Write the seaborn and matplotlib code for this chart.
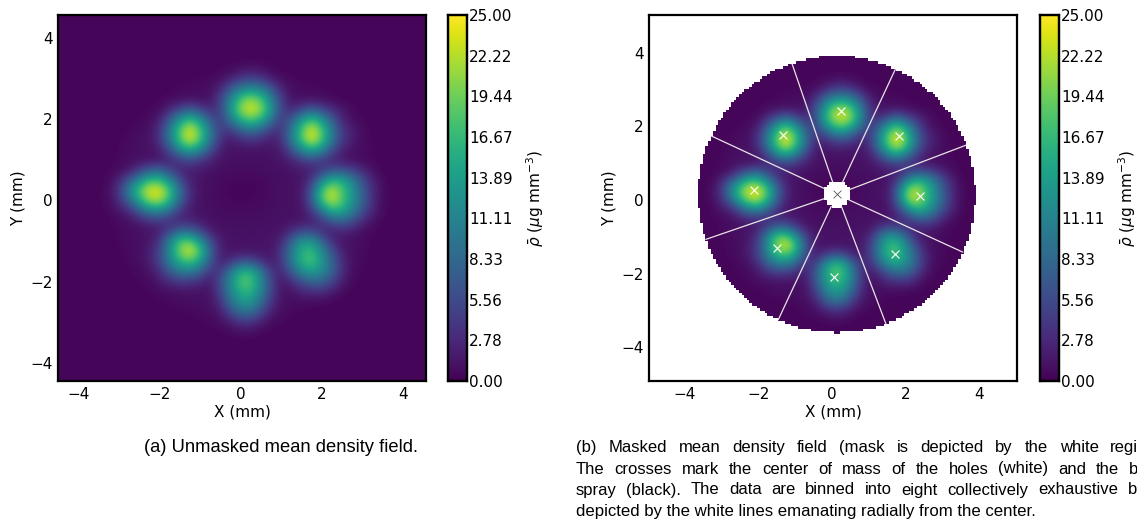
import numpy as np
import seaborn as sns
import matplotlib.pyplot as plt

# mean density, mm grid from -3.5 to 3.5 every 0.25, first row is y = +3.5
density_rows = [
    [.3] * 29,
    [.3] * 12 + [.4, .7, 1, 1.5, 1, .6] + [.3] * 11,
    [.3] * 9 + [.4, .5, .6, 1, 2, 4, 5, 4, 2, .8, .6, .4] + [.3] * 8,
    [.3] * 7 + [.4, .6, .7, .8, .9, 2.5, 7, 11, 12, 11, 7, 2.5, .9, .7, .7, .5] + [.3] * 6,
    [.3] * 6 + [.4, .7, .9, 1.1, 1, 1.2, 5, 11, 18, 21, 18, 11, 4.5, 1.2, 1, 1.1, .9, .6] + [.3] * 5,
    [.3] * 5 + [.5, .8, 2.5, 5, 7, 5, 2.5, 5, 13, 21, 24, 21, 13, 5, 2.5, 5, 7, 5, 3, 1.6, .6] + [.3] * 3,
    [.3] * 4 + [.5, .8, 2, 7, 13, 17, 13, 7, 4, 10, 16, 19, 16, 10, 4, 7, 13, 17, 13, 7, 2.5, .9, .5] + [.3] * 2,
    [.3] * 3 + [.5, .8, 1.1, 3.5, 10, 18, 24, 18, 10, 4.5, 4.5, 8, 10, 8, 4.5, 3.5, 10, 18, 24, 18, 10, 4, 2, .7, .4, .3],
    [.3, .3, .4, .7, 1, 1.2, 3.5, 10, 18, 24, 18, 10, 3.5, 1.6, 3, 3.5, 3, 1.6, 3.5, 10, 18, 24, 18, 10, 4, 2, .8, .4, .3],
    [.3, .3, .5, .8, 1.1, 1.2, 2, 6, 12, 15, 12, 6, 2, 1.2, 1.2, 1.2, 1.2, 1.3, 2, 6, 12, 15, 12, 6, 2.5, 1.2, .8, .5, .3],
    [.3, .3, .6, .9, 1.1, 1.1, 1.4, 2.5, 4, 5.5, 4, 2.5, 1.3, 1, 1, 1, 1, 1.1, 1.3, 2.5, 4, 5.5, 4, 2.5, 1.5, 1, .8, .5, .3],
    [.3, .4, .7, 1.5, 4, 7, 8, 5, 2.5, 2, 1.8, 1.1, .9, .8, .7, .8, .9, 1, 1.1, 1.2, 1.8, 2, 4, 6, 6, 4.5, 2.5, 1, .3],
    [.3, .6, 2.5, 7, 12, 17, 17, 12, 6, 2, 1.2, 1, .7, .6, .5, .5, .6, .8, 1, 1.1, 1.3, 4, 11, 16, 15, 11, 6, 2.5, .6],
    [.4, .9, 4, 11, 18, 24, 24, 18, 9, 3, 1.2, .9, .6, .4, .3, .4, .5, .8, 1, 1.1, 1.5, 7, 18, 23, 18, 13, 7, 3, .7],
    [.4, .8, 3, 8, 15, 21, 22, 16, 8, 2.5, 1.2, .9, .7, .5, .4, .5, .6, .8, 1, 1.1, 1.5, 7, 18, 23, 18, 13, 8, 3, .7],
    [.3, .5, 1.5, 3, 7, 11, 12, 9, 4, 1.6, 1.2, 1, .8, .7, .7, .7, .8, .9, 1.1, 1.1, 1.3, 4, 10, 16, 15, 11, 6, 2.5, .6],
    [.3, .4, .8, 1, 2, 3.5, 4, 3, 2.5, 2.5, 1.6, 1.1, 1, .9, .9, .9, 1, 1.1, 1.1, 1.2, 1.2, 2, 4, 7, 8, 6, 3, 1.2, .4],
    [.3, .3, .6, .9, 1.1, 1.2, 2, 5, 8, 8, 5, 2, 1.2, 1.1, 1.1, 1.1, 1.1, 1.2, 1.3, 3, 5, 5, 3, 2, 2.5, 2, .8, .5, .3],
    [.3, .3, .5, .8, 1, 1.5, 4, 11, 18, 19, 13, 6, 1.8, 1.2, 1.2, 1.2, 1.3, 1.3, 2.5, 8, 13, 13, 8, 3, 1.3, 1, .8, .4, .3],
    [.3, .3, .4, .7, 1, 2, 5, 12, 20, 24, 18, 8, 2.2, 1.2, 1.3, 1.3, 1.3, 1.4, 4, 10, 16, 17, 12, 6, 2, 1, .7, .3, .3],
    [.3, .3, .3, .6, .9, 2, 5, 11, 16, 18, 14, 7, 2, 3.5, 6, 6, 3.5, 1.5, 4, 10, 16, 18, 13, 8, 3, 1, .6, .3, .3],
    [.3, .3, .3, .4, .7, 1.1, 3, 7, 10, 10.5, 8, 3.5, 4, 10, 16, 16, 10, 4, 2.5, 7, 12, 14, 12, 8, 3, .8, .5, .3, .3],
    [.3] * 4 + [.5, .8, 1.6, 3, 4, 4, 3, 1.6, 6, 12, 18, 18, 12, 5, 1.4, 3, 6, 8, 8, 5, 2, .6] + [.3] * 3,
    [.3] * 5 + [.5, .8, 1, 1.1, 1.1, 1.1, 1.2, 5, 11, 16, 16, 11, 5, 1.2, 1.1, 2.5, 3, 3, 2, .6] + [.3] * 4,
    [.3] * 6 + [.4, .6, .8, .9, 1, 1.1, 3.5, 9, 13, 13, 9, 3.5, 1.1, .9, .8, .7, .6, .4] + [.3] * 5,
    [.3] * 8 + [.4, .5, .7, .9, 1.8, 5.5, 9, 9, 5.5, 2, .9, .6, .4] + [.3] * 8,
    [.3] * 10 + [.4, .6, .9, 2, 3.5, 3.5, 2, .8, .5] + [.3] * 10,
    [.3] * 12 + [.4, .6, .9, .9, .5] + [.3] * 12,
    [.3] * 29,
]
background_density = 0.3

colorbar_ticks = [0.0, 2.78, 5.56, 8.33, 11.11, 13.89, 16.67, 19.44, 22.22, 25.0]
axis_ticks = [-4, -2, 0, 2, 4]

# center of mass of the holes and of the spray (mm)
holes_x = [0.25, 1.82, 2.39, 1.70, 0.07, -1.49, -2.12, -1.33]
holes_y = [2.42, 1.73, 0.12, -1.47, -2.10, -1.30, 0.28, 1.78]
spray_x = [0.135]
spray_y = [0.154]

# bin edges in degrees around the spray center, and the mask radii (mm)
bin_angles = [108.9, 65.0, 20.9, -24.7, -69.3, -115.0, -161.0, 155.0]
mask_outer = 3.76
mask_inner = 0.36

caption_a = "(a) Unmasked mean density field."
caption_b = [
    "(b) Masked mean density field (mask is depicted by the white region).",
    "The crosses mark the center of mass of the holes (white) and the bulk",
    "spray (black). The data are binned into eight collectively exhaustive bins",
    "depicted by the white lines emanating radially from the center.",
]

WIDTH, HEIGHT = 1137, 525
STEP = 0.25
PAD = 4
LIMIT = 4.5


def to_col(x):
    return (np.asarray(x) + LIMIT) / STEP


def to_row(y):
    return (LIMIT - np.asarray(y)) / STEP


def box(left, top, right, bottom):
    return [left / WIDTH, 1 - bottom / HEIGHT, (right - left) / WIDTH, (bottom - top) / HEIGHT]


def set_limits(ax, xlim, ylim):
    ax.set_xlim(to_col(xlim[0]), to_col(xlim[1]))
    ax.set_ylim(to_row(ylim[0]), to_row(ylim[1]))


def draw_field(ax, cax, field, xlim, ylim):
    sns.heatmap(
        field,
        ax=ax,
        cbar_ax=cax,
        cmap="viridis",
        vmin=0,
        vmax=25,
        shading="gouraud",
        xticklabels=False,
        yticklabels=False,
        cbar_kws={"ticks": colorbar_ticks, "format": "%.2f"},
    )
    # same values again, smoothed for display
    n_rows, n_cols = field.shape
    ax.imshow(
        field, cmap="viridis", vmin=0, vmax=25, interpolation="bicubic", aspect="auto",
        extent=(-0.5, n_cols - 0.5, n_rows - 0.5, -0.5), zorder=1,
    )
    ax.set_facecolor(plt.get_cmap("viridis")(background_density / 25))
    set_limits(ax, xlim, ylim)
    labels = [f"{t}".replace("-", "\u2212") for t in axis_ticks]
    ax.set_xticks(to_col(axis_ticks))
    ax.set_xticklabels(labels)
    ax.set_yticks(to_row(axis_ticks))
    ax.set_yticklabels(labels, rotation=0)
    ax.set_xlabel("X (mm)", fontsize=11, labelpad=2)
    ax.set_ylabel("Y (mm)", fontsize=11, labelpad=3)
    ax.tick_params(
        direction="in", length=3, width=1.2, labelsize=11, top=True, right=True,
        bottom=True, left=True, pad=4,
    )
    for spine in ax.spines.values():
        spine.set_visible(True)
        spine.set_linewidth(1.6)
        spine.set_color("black")

    cax.tick_params(direction="in", length=2.5, width=1.2, labelsize=11, pad=1.5, right=True)
    for spine in cax.spines.values():
        spine.set_visible(True)
        spine.set_linewidth(1.6)
        spine.set_color("black")
    cax.set_ylabel(r"$\bar{\rho}$ ($\mu$g mm$^{-3}$)", fontsize=11, labelpad=8)


def draw_mask(ax, xlim, ylim):
    # blocky white mask, about the block size of the binned data
    edges = np.arange(-5.25, 5.26, 0.07)
    centers = (edges[:-1] + edges[1:]) / 2
    xx, yy = np.meshgrid(centers, centers)
    radius = np.hypot(xx - spray_x[0], yy - spray_y[0])
    hidden = (radius > mask_outer) | (radius < mask_inner)
    rgba = np.ones(hidden.shape + (4,))
    rgba[..., 3] = hidden
    ax.imshow(
        rgba,
        origin="lower",
        interpolation="nearest",
        aspect="auto",
        extent=(to_col(edges[0]), to_col(edges[-1]), to_row(edges[0]), to_row(edges[-1])),
        zorder=1.5,
    )
    ax.set_facecolor("white")
    set_limits(ax, xlim, ylim)


def justified_line(fig, line, left, width, y, size):
    # lines of the caption are set flush, so the words are spread over the column
    renderer = fig.canvas.get_renderer()
    texts = [
        fig.text(0, 1 - y / HEIGHT, word, fontsize=size, family="Liberation Sans",
                 color="black", va="baseline")
        for word in line.split()
    ]
    widths = [t.get_window_extent(renderer).width for t in texts]
    gap = (width - sum(widths)) / (len(texts) - 1)
    x = left
    for text, w in zip(texts, widths):
        text.set_x(x / WIDTH)
        x += w + gap


sns.set_style("white")
plt.rcParams["font.family"] = ["DejaVu Sans"]
plt.rcParams["text.color"] = "black"
plt.rcParams["axes.labelcolor"] = "black"
plt.rcParams["xtick.color"] = "black"
plt.rcParams["ytick.color"] = "black"

field = np.pad(np.array(density_rows), PAD, constant_values=background_density)

fig = plt.figure(figsize=(WIDTH / 100, HEIGHT / 100), dpi=100)

ax_a = fig.add_axes(box(58, 15, 426, 381))
cax_a = fig.add_axes(box(448, 15, 467, 381))
draw_field(ax_a, cax_a, field, (-4.5, 4.56), (-4.45, 4.57))

xlim_b, ylim_b = (-4.96, 5.02), (-4.92, 5.03)
ax_b = fig.add_axes(box(649, 15, 1017, 381))
cax_b = fig.add_axes(box(1040, 15, 1059, 381))
draw_field(ax_b, cax_b, field, xlim_b, ylim_b)
draw_mask(ax_b, xlim_b, ylim_b)

for angle in bin_angles:
    rad = np.deg2rad(angle)
    xs = spray_x[0] + np.array([mask_inner, mask_outer]) * np.cos(rad)
    ys = spray_y[0] + np.array([mask_inner, mask_outer]) * np.sin(rad)
    ax_b.plot(to_col(xs), to_row(ys), color="#e8e4e8", lw=0.9, zorder=1.8)

sns.scatterplot(
    x=to_col(holes_x), y=to_row(holes_y), ax=ax_b, marker="x", color="white",
    s=32, linewidth=0.8, zorder=5,
)
sns.scatterplot(
    x=to_col(spray_x), y=to_row(spray_y), ax=ax_b, marker="x", color="#555555",
    s=32, linewidth=0.6, zorder=5,
)

fig.text(280.5 / WIDTH, 1 - 447 / HEIGHT, caption_a, fontsize=13.2, family="Liberation Sans",
         color="black", ha="center", va="center")
for line, y, span in zip(caption_b, [452, 473.5, 494.5], [591, 584, 582]):
    justified_line(fig, line, 576, span, y, 12)
fig.text(576 / WIDTH, 1 - 516 / HEIGHT, caption_b[3], fontsize=12.1, family="Liberation Sans",
         color="black", ha="left", va="baseline")

fig.savefig("out.png", dpi=100)
